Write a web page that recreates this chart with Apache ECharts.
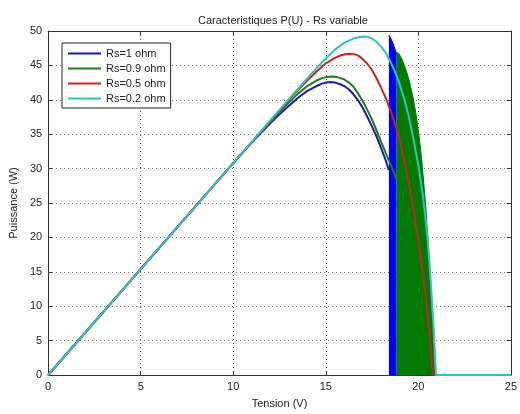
<!DOCTYPE html>
<html>
<head>
<meta charset="utf-8">
<script src="https://cdn.jsdelivr.net/npm/echarts@6/dist/echarts.min.js"></script>
<style>
  html, body { margin: 0; padding: 0; background: #fff; }
  #chart { width: 520px; height: 414px; }
</style>
</head>
<body>
<div id="chart"></div>
<script>
  'use strict';

  var seriesNames = ['Rs=1 ohm', 'Rs=0.9 ohm', 'Rs=0.5 ohm', 'Rs=0.2 ohm'];
  var seriesColors = ['#1a1aa8', '#1c7d1c', '#cc2222', '#2ec2c2'];

  // P(U) curves, [tension, puissance]
  var rs1 = [[0, 0], [5, 15.4], [10, 30.8], [11, 33.8], [11.5, 35.2], [12, 36.6], [12.5, 37.9],
    [13, 39.1], [13.5, 40.3], [14, 41.3], [14.5, 42.0], [14.8, 42.35], [15, 42.5], [15.25, 42.6],
    [15.5, 42.5], [15.75, 42.3], [16, 42.0], [16.25, 41.5], [16.5, 40.8], [16.75, 39.9],
    [17, 38.8], [17.25, 37.5], [17.5, 36.1], [17.75, 34.6], [18, 32.9], [18.2, 31.5], [18.4, 29.8]];
  var rs09 = [[0, 0], [5, 15.4], [10, 30.8], [11, 33.8], [11.5, 35.3], [12, 36.8], [12.5, 38.2],
    [13, 39.6], [13.5, 40.9], [14, 42.0], [14.5, 42.8], [14.8, 43.15], [15.05, 43.33], [15.35, 43.4],
    [15.6, 43.3], [15.8, 43.15], [16, 42.95], [16.25, 42.5], [16.5, 41.9], [16.75, 40.9],
    [17, 39.8], [17.25, 38.5], [17.5, 37.1], [17.75, 35.5], [18, 33.8], [18.25, 32.2],
    [18.5, 30.6], [18.83, 28.4]];
  var rs05 = [[0, 0], [5, 15.4], [10, 30.8], [12, 36.9], [12.5, 38.4], [13, 40.0], [13.5, 41.4],
    [14, 42.8], [14.5, 44.1], [15, 45.3], [15.5, 46.1], [15.8, 46.45], [16.05, 46.62], [16.3, 46.7],
    [16.6, 46.6], [16.8, 46.35], [17, 45.9], [17.25, 45.2], [17.5, 44.3], [17.75, 43.1],
    [18, 41.7], [18.25, 40.2], [18.5, 38.4], [18.75, 36.4], [19, 34.0], [19.25, 31.0],
    [19.5, 27.6], [19.75, 23.8], [20, 19.6], [20.25, 14.8], [20.5, 9.0], [20.65, 4.8],
    [20.78, 0], [25, 0]];
  var rs02 = [[0, 0], [5, 15.4], [10, 30.8], [13, 40.1], [13.5, 41.6], [14, 43.1], [14.5, 44.6],
    [15, 46.0], [15.5, 47.3], [16, 48.3], [16.5, 48.9], [16.75, 49.1], [17, 49.2], [17.25, 49.15],
    [17.5, 48.9], [17.75, 48.4], [18, 47.7], [18.25, 46.8], [18.5, 45.5], [18.75, 44.0],
    [19, 42.2], [19.25, 40.0], [19.5, 37.4], [19.75, 34.1], [20, 30.5], [20.25, 26.0],
    [20.5, 19.8], [20.65, 14.5], [20.8, 8.0], [20.9, 3.0], [20.95, 0], [25, 0]];

  // upper envelope of the oscillating parts (blue and green blocks)
  var rs1Osc = [[18.41, 49.4], [18.5, 49.0], [18.6, 48.4], [18.7, 47.7], [18.83, 46.6]];
  var rs09Osc = [[18.83, 46.9], [18.95, 46.7], [19.1, 46.0], [19.3, 44.6], [19.51, 42.8],
    [19.7, 40.5], [19.86, 38.2], [20.05, 34.5], [20.2, 30.8], [20.4, 24.5], [20.54, 18.7],
    [20.65, 13.5], [20.75, 8.0], [20.83, 3.5], [20.88, 0]];

  var xTicks = { min: 0, max: 25, interval: 5 };
  var yTicks = { min: 0, max: 50, interval: 5 };

  var font = 'Arial, "Liberation Sans", sans-serif';

  function curve(name, color, data) {
    return {
      name: name,
      type: 'line',
      data: data,
      symbol: 'none',
      showSymbol: false,
      color: color,
      lineStyle: { width: 2, color: color },
      animation: false
    };
  }

  function block(name, color, data) {
    return {
      name: name,
      type: 'line',
      data: data,
      symbol: 'none',
      showSymbol: false,
      silent: true,
      lineStyle: { width: 1, color: color },
      areaStyle: { color: color, opacity: 1 },
      animation: false
    };
  }

  function axisBase(ticks, pos, show) {
    return {
      type: 'value',
      position: pos,
      min: ticks.min,
      max: ticks.max,
      interval: ticks.interval,
      axisLine: { show: true, onZero: false, lineStyle: { color: '#333', width: 1 } },
      axisTick: { show: true, inside: true, length: 4, lineStyle: { color: '#333' } },
      axisLabel: { show: show, color: '#222', fontSize: 11, fontFamily: font, margin: 6 },
      splitLine: { show: show, lineStyle: { color: '#666', width: 1, type: [1, 3] } }
    };
  }

  var chart = echarts.init(document.getElementById('chart'));

  var xMain = axisBase(xTicks, 'bottom', true);
  xMain.name = 'Tension (V)';
  xMain.nameLocation = 'middle';
  xMain.nameGap = 23;
  xMain.nameTextStyle = { color: '#222', fontSize: 11, fontFamily: font };

  var yMain = axisBase(yTicks, 'left', true);
  yMain.name = 'Puissance (W)';
  yMain.nameLocation = 'middle';
  yMain.nameGap = 24;
  yMain.nameTextStyle = { color: '#222', fontSize: 11, fontFamily: font };

  chart.setOption({
    backgroundColor: '#fff',
    animation: false,
    title: {
      text: 'Caracteristiques P(U) - Rs variable',
      left: 193,
      top: 10,
      textStyle: { color: '#222', fontSize: 11, fontWeight: 'normal', fontFamily: font }
    },
    grid: { left: 44, right: 7, top: 31, bottom: 33, containLabel: false },
    legend: {
      data: seriesNames,
      orient: 'vertical',
      left: 62,
      top: 43,
      padding: [4, 5, 3, 6],
      icon: 'rect',
      itemWidth: 33,
      itemHeight: 2,
      itemGap: 2,
      backgroundColor: '#fff',
      borderColor: '#222',
      borderWidth: 1,
      textStyle: { color: '#222', fontSize: 11, fontFamily: font, lineHeight: 13 }
    },
    xAxis: [xMain, axisBase(xTicks, 'top', false)],
    yAxis: [yMain, axisBase(yTicks, 'right', false)],
    series: [
      curve(seriesNames[0], seriesColors[0], rs1),
      block('rs1-osc', '#0000ff', rs1Osc),
      curve(seriesNames[1], seriesColors[1], rs09),
      block('rs09-osc', '#007a00', rs09Osc),
      curve(seriesNames[2], seriesColors[2], rs05),
      curve(seriesNames[3], seriesColors[3], rs02)
    ]
  });
</script>
</body>
</html>
